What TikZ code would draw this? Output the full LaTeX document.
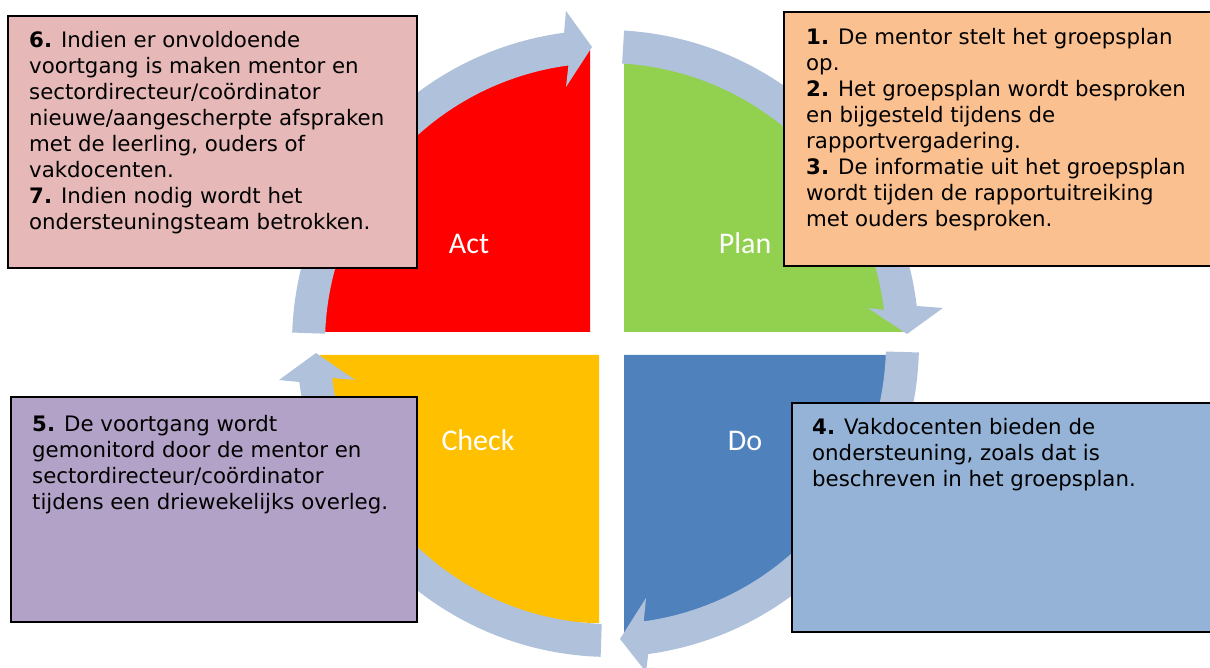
\documentclass[tikz,border=0pt]{standalone}
\usepackage{fontspec}
\setmainfont{DejaVu Sans}
\newfontfamily\labelfont{Carlito}
\definecolor{arrowc}{HTML}{B0C1DC}
\definecolor{actc}{HTML}{FF0000}
\definecolor{planc}{HTML}{92D050}
\definecolor{checkc}{HTML}{FFC000}
\definecolor{doc}{HTML}{4F81BD}
\definecolor{boxsixc}{HTML}{E6B9B8}
\definecolor{boxonec}{HTML}{FAC090}
\definecolor{boxfivec}{HTML}{B3A2C7}
\definecolor{boxfourc}{HTML}{95B3D7}
\begin{document}
\begin{tikzpicture}[x=1pt,y=1pt,
  cyclearrow/.style={fill=arrowc},
  textbox/.style={draw=black, line width=2pt, anchor=north west, inner sep=0pt, outer sep=0pt},
  bodytext/.style={anchor=base west, inner sep=0pt, text=black, font=\fontsize{21.3}{26}\selectfont},
  qlabel/.style={anchor=base, inner sep=0pt, text=white, font=\labelfont\fontsize{30}{36}\selectfont}]
\useasboundingbox (0,0) rectangle (1210,668);

% quadrants
\fill[actc] (590,336) -- (324,336) arc[start angle=180, end angle=90, x radius=266, y radius=282] -- cycle;
\fill[planc] (624,336) -- (624,606) arc[start angle=90, end angle=0, x radius=281, y radius=270] -- cycle;
\fill[checkc] (599,313) -- (320,313) arc[start angle=180, end angle=270, x radius=279, y radius=268] -- cycle;
\fill[doc] (624,313) -- (892,313) arc[start angle=0, end angle=-90, x radius=268, y radius=277] -- cycle;

% cycle arrows
\begin{scope}[shift={(605.5,324.5)}]
  \fill[cyclearrow] (178:313.5) arc[start angle=178, end angle=97.6, radius=313.5]
    -- (-39.5,332.5) -- (-13.5,296.5) -- (-39.5,256.5)
    -- (97.6:280.5) arc[start angle=97.6, end angle=178, radius=280.5] -- cycle;
  \fill[cyclearrow] (86.6:313.5) arc[start angle=86.6, end angle=6.87, radius=313.5]
    -- (337.5,35.5) -- (301.5,9.5) -- (262.5,35.5)
    -- (6.87:280.5) arc[start angle=6.87, end angle=86.6, radius=280.5] -- cycle;
  \fill[cyclearrow] (-1.64:313.5) arc[start angle=-1.64, end angle=-82.16, radius=313.5]
    -- (40.5,-328.5) -- (14.5,-295.5) -- (40.5,-254.5)
    -- (-82.16:280.5) arc[start angle=-82.16, end angle=-1.64, radius=280.5] -- cycle;
\end{scope}
\begin{scope}[shift={(610.5,324.5)}]
  \fill[cyclearrow] (268.2:313.5) arc[start angle=268.2, end angle=187.06, radius=313.5]
    -- (-331.5,-36.5) -- (-294.5,-9.5) -- (-255.5,-36.5)
    -- (187.06:280.5) arc[start angle=187.06, end angle=268.2, radius=280.5] -- cycle;
\end{scope}

% quadrant labels
\node[qlabel] (lact) at (469,414) {Act};
\node[qlabel] (lplan) at (745,414) {Plan};
\node[qlabel] (lcheck) at (478,217) {Check};
\node[qlabel] (ldo) at (745,217) {Do};

% text boxes
\node[textbox, fill=boxsixc, minimum width=409pt, minimum height=252pt] (b6) at (8,652) {};
\node[textbox, fill=boxonec, minimum width=430pt, minimum height=254pt] (b1) at (784,656) {};
\node[textbox, fill=boxfivec, minimum width=406pt, minimum height=225pt] (b5) at (11,271) {};
\node[textbox, fill=boxfourc, minimum width=422pt, minimum height=229pt] (b4) at (792,265) {};

\node[bodytext] (t6) at (29,620) {\parbox[t]{600pt}{\textbf{6.} Indien er onvoldoende\\
voortgang is maken mentor en\\
sectordirecteur/coördinator\\
nieuwe/aangescherpte afspraken\\
met de leerling, ouders of\\
vakdocenten.\\
\textbf{7.} Indien nodig wordt het\\
ondersteuningsteam betrokken.}};

\node[bodytext] (t1) at (806,623) {\parbox[t]{600pt}{\textbf{1.} De mentor stelt het groepsplan\\
op.\\
\textbf{2.} Het groepsplan wordt besproken\\
en bijgesteld tijdens de\\
rapportvergadering.\\
\textbf{3.} De informatie uit het groepsplan\\
wordt tijden de rapportuitreiking\\
met ouders besproken.}};

\node[bodytext] (t5) at (32,236) {\parbox[t]{600pt}{\textbf{5.} De voortgang wordt\\
gemonitord door de mentor en\\
sectordirecteur/coördinator\\
tijdens een driewekelijks overleg.}};

\node[bodytext] (t4) at (812,233) {\parbox[t]{600pt}{\textbf{4.} Vakdocenten bieden de\\
ondersteuning, zoals dat is\\
beschreven in het groepsplan.}};
\end{tikzpicture}
\end{document}
